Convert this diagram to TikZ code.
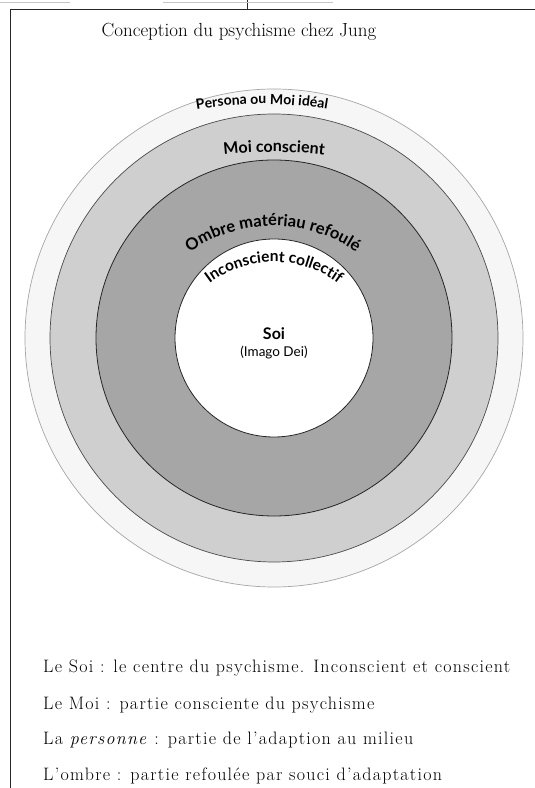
\documentclass[tikz,border=0pt]{standalone}
\usepackage{fontspec}
\newfontfamily\labfont{Lato}
\newfontfamily\legfont{Latin Modern Roman}[LetterSpace=7]
\usetikzlibrary{decorations.text,calc}
\tikzset{
  frameline/.style={draw=black!85, line width=1.0pt},
  faint/.style={draw=gray!45, line width=0.6pt},
  outerline/.style={draw=gray!70, line width=0.7pt},
  midline/.style={draw=black!70, line width=0.7pt},
  darkline/.style={draw=black!85, line width=0.8pt},
  bodytext/.style={anchor=base west, inner sep=0pt, font=\legfont\fontsize{18}{21}\selectfont},
  curvelab/.style={decorate, decoration={text along path, text align=center, text={#1}}}
}
\newcommand{\labsize}[1]{\labfont\bfseries\fontsize{#1}{#1}\selectfont}
\begin{document}
\begin{tikzpicture}[x=1pt,y=1pt]
\useasboundingbox (0,0) rectangle (535,788);
\fill[white] (0,0) rectangle (535,788);
% frame
\coordinate (fbl) at (10,0);
\coordinate (ftl) at (10,778);
\coordinate (ftr) at (535,778);
\draw[frameline] (fbl) -- (ftl) -- (ftr);
\coordinate (tk1) at (247,788);
\coordinate (tk2) at (247,778);
\draw[frameline, line width=0.7pt] (tk1) -- (tk2);
\coordinate (fa1) at (0,786);
\coordinate (fa2) at (70,786);
\coordinate (fa3) at (163,786);
\coordinate (fa4) at (333,786);
\draw[faint] (fa1) -- (fa2);
\draw[faint] (fa3) -- (fa4);
% title
\node[anchor=base, inner sep=0pt, font=\fontsize{19}{22}\selectfont] (title) at (239,751) {Conception du psychisme chez Jung};
% circles
\coordinate (c) at (274,450);
\draw[outerline, fill=gray!7] (c) circle[radius=249];
\draw[midline, fill=gray!38] (c) circle[radius=224];
\draw[darkline, fill=gray!70] (c) circle[radius=178];
\draw[darkline, fill=white] (c) circle[radius=99];
% curved labels
\coordinate (cp) at (262,284);
\begin{scope}
\labsize{14}
\path[curvelab={Persona ou Moi idéal}] ($(cp)+(104:400)$) arc[start angle=104, end angle=76, radius=400];
\end{scope}
\coordinate (cm) at (274,186);
\begin{scope}
\labsize{16}
\path[curvelab={Moi conscient}] ($(cm)+(102:450)$) arc[start angle=102, end angle=78, radius=450];
\end{scope}
\coordinate (co) at (273,417);
\begin{scope}
\labsize{16.5}
\path[curvelab={Ombre matériau refoulé}] ($(co)+(150:145)$) arc[start angle=150, end angle=30, radius=145];
\end{scope}
\coordinate (ci) at (274,419);
\begin{scope}
\labsize{15.5}
\path[curvelab={Inconscient collectif}] ($(ci)+(160:107)$) arc[start angle=160, end angle=20, radius=107];
\end{scope}
% centre
\node[anchor=base, inner sep=0pt, font=\labsize{16}] (soi) at (274,448) {Soi};
\node[anchor=base, inner sep=0pt, font=\labfont\fontsize{13.5}{16}\selectfont] (imago) at (274,431) {(Imago Dei)};
% legend
\node[bodytext] (l1) at (43,115) {Le Soi : le centre du psychisme. Inconscient et conscient};
\node[bodytext] (l2) at (43,78) {Le Moi : partie consciente du psychisme};
\node[bodytext] (l3) at (43,43) {La \textit{personne} : partie de l’adaption au milieu};
\node[bodytext] (l4) at (43,8) {L’ombre : partie refoulée par souci d’adaptation};
\end{tikzpicture}
\end{document}
